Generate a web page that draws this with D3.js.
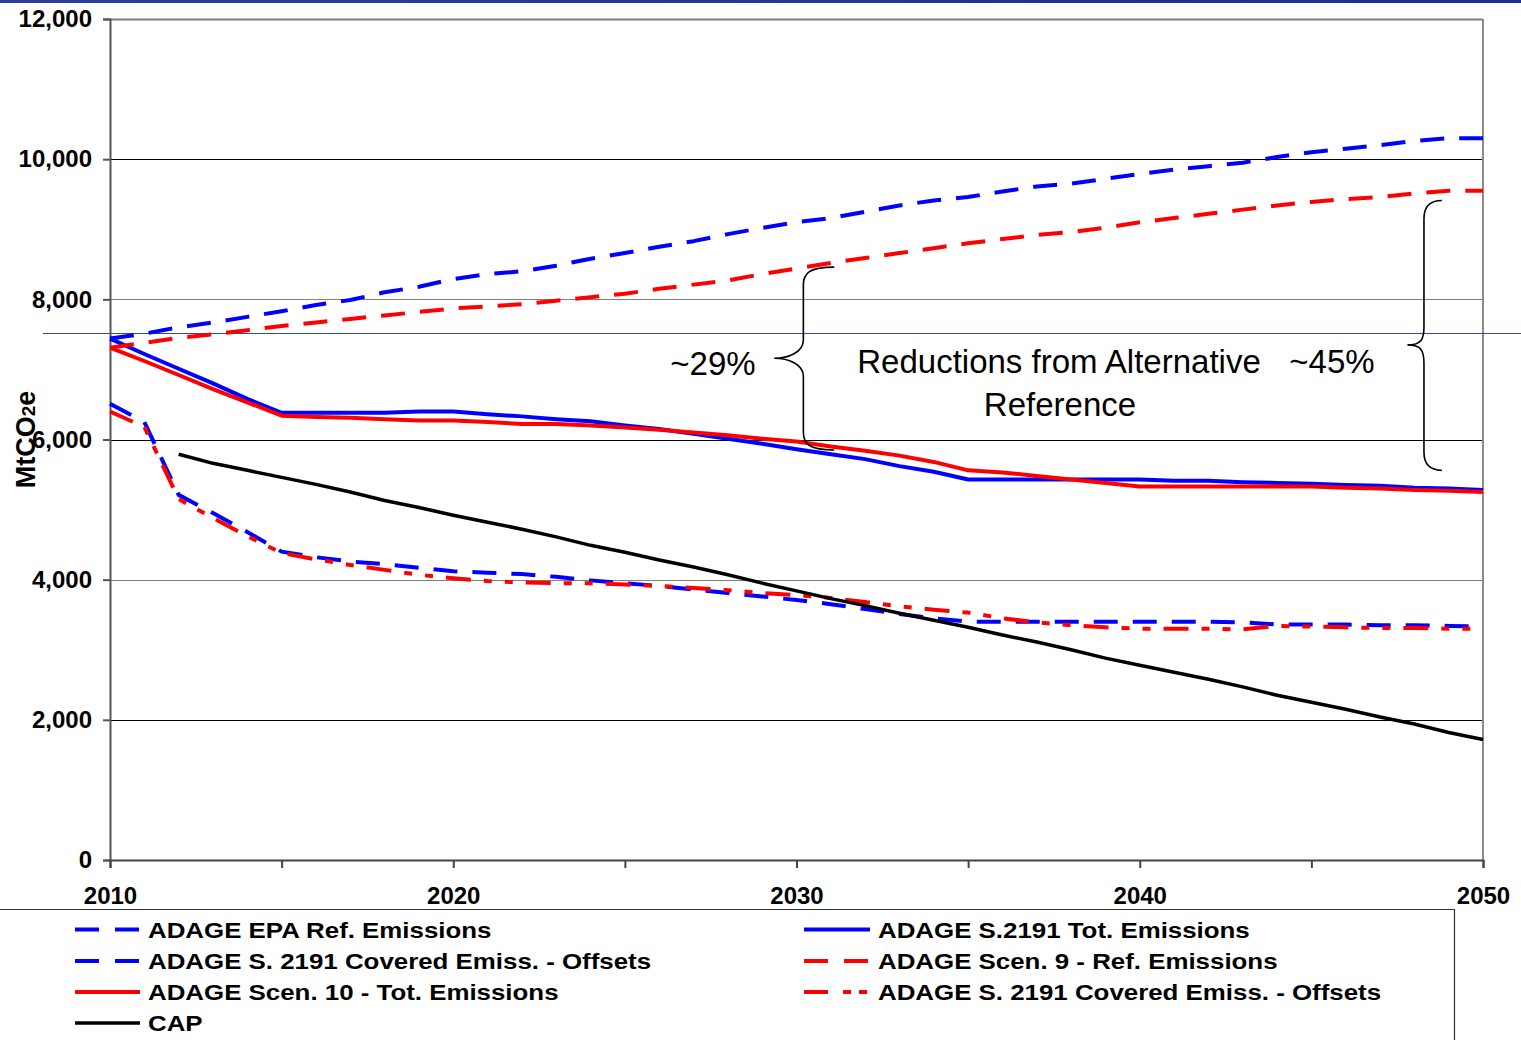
<!DOCTYPE html>
<html>
<head>
<meta charset="utf-8">
<script src="https://cdn.jsdelivr.net/npm/d3@7"></script>
<style>
  html, body { margin: 0; padding: 0; background: #fff; }
  svg { display: block; font-family: "Liberation Sans", Arial, sans-serif; }
</style>
</head>
<body>
<svg id="chart" width="1521" height="1040"></svg>
<script>
// ---------------- DATA ----------------
const years = d3.range(2010, 2051);
const capYears = d3.range(2012, 2051);

const epaRef = [7440,7510,7600,7670,7750,7830,7920,7990,8100,8180,8290,8360,8400,8480,8580,8660,8750,8830,8930,9020,9100,9160,9250,9340,9410,9460,9540,9610,9650,9720,9790,9850,9900,9950,10030,10100,10150,10200,10260,10300,10300];
const s2191Tot = [7440,7220,7010,6800,6580,6380,6380,6380,6380,6400,6400,6360,6330,6290,6260,6200,6150,6080,6010,5940,5860,5790,5720,5620,5540,5430,5430,5430,5430,5430,5430,5410,5410,5390,5380,5370,5350,5340,5310,5300,5280];
const s2191CovBlue = [6510,6250,5210,4950,4680,4400,4320,4260,4220,4170,4120,4100,4080,4040,3990,3950,3910,3860,3810,3760,3710,3650,3580,3510,3450,3400,3400,3400,3400,3400,3400,3400,3400,3390,3360,3360,3360,3350,3350,3340,3330];
const scen9Ref = [7310,7380,7450,7500,7560,7620,7670,7720,7770,7820,7870,7900,7930,7980,8030,8080,8150,8210,8270,8360,8440,8520,8590,8660,8730,8800,8860,8920,8960,9020,9100,9160,9220,9280,9340,9390,9430,9460,9510,9550,9550];
const scen10Tot = [7310,7120,6920,6720,6530,6340,6320,6310,6290,6270,6270,6250,6220,6220,6200,6170,6140,6100,6060,6010,5970,5900,5840,5770,5680,5560,5530,5480,5430,5380,5330,5330,5330,5330,5330,5330,5310,5300,5280,5270,5250];
const s2191CovRed = [6400,6180,5150,4880,4620,4380,4290,4210,4140,4070,4020,3980,3960,3950,3950,3930,3910,3880,3850,3810,3780,3740,3680,3620,3570,3530,3450,3390,3350,3320,3300,3300,3300,3290,3340,3330,3320,3310,3310,3300,3300];
const cap = [5790,5660,5560,5460,5360,5250,5130,5030,4920,4820,4720,4610,4490,4390,4280,4180,4070,3950,3840,3730,3630,3520,3420,3320,3210,3110,3000,2880,2780,2680,2580,2470,2350,2250,2150,2040,1940,1820,1720];

const yTicks = [0,2000,4000,6000,8000,10000,12000];
const xMinorTicks = [2010,2015,2020,2025,2030,2035,2040,2045,2050];
const xLabelTicks = [2010,2020,2030,2040,2050];

const seriesNames = [
  "ADAGE EPA Ref. Emissions",
  "ADAGE S.2191 Tot. Emissions",
  "ADAGE S. 2191 Covered Emiss. - Offsets",
  "ADAGE Scen. 9 - Ref. Emissions",
  "ADAGE Scen. 10 - Tot. Emissions",
  "ADAGE S. 2191 Covered Emiss. - Offsets",
  "CAP"
];

const annotationLeft = "~29%";
const annotationRight = "~45%";
const annotationMain = ["Reductions from Alternative", "Reference"];

// ---------------- STYLES ----------------
const DASH = "24,15";
const DASHDOT = "25,13,8,13,8,13";
const series = [
  {name: seriesNames[0], x: years, v: epaRef, color: "#0000ff", dash: DASH, w: 4, legend: [0,0], ldash: "24,16"},
  {name: seriesNames[1], x: years, v: s2191Tot, color: "#0000ff", dash: null, w: 4, legend: [1,0], ldash: null},
  {name: seriesNames[2], x: years, v: s2191CovBlue, color: "#0000ff", dash: DASH, w: 4, legend: [0,1], ldash: "24,16"},
  {name: seriesNames[3], x: years, v: scen9Ref, color: "#ff0000", dash: DASH, w: 4, legend: [1,1], ldash: "24,16"},
  {name: seriesNames[4], x: years, v: scen10Tot, color: "#ff0000", dash: null, w: 4, legend: [0,2], ldash: null},
  {name: seriesNames[5], x: years, v: s2191CovRed, color: "#ff0000", dash: DASHDOT, w: 4, legend: [1,2], ldash: "24,15,8,8,8,20"},
  {name: seriesNames[6], x: capYears, v: cap, color: "#000000", dash: null, w: 3.5, legend: [0,3], ldash: null}
];

// ---------------- CHART ----------------
const svg = d3.select("#chart");
svg.append("rect").attr("width",1521).attr("height",1040).attr("fill","#fff");

// top decorative band
const grad = svg.append("defs").append("linearGradient").attr("id","band");
grad.append("stop").attr("offset","0%").attr("stop-color","#2b3f9a");
grad.append("stop").attr("offset","100%").attr("stop-color","#1c2f8c");
svg.append("rect").attr("x",0).attr("y",0).attr("width",1521).attr("height",3).attr("fill","url(#band)");

const x = d3.scaleLinear().domain([2010, 2050]).range([110, 1483]);
const y = d3.scaleLinear().domain([0, 12000]).range([860, 19]);

// gridlines
const grid = svg.append("g");
yTicks.filter(t => t > 0).forEach(t => {
  const isBlack = (t / 2000) % 2 === 1;
  grid.append("line")
    .attr("x1", x(2010)).attr("x2", x(2050))
    .attr("y1", Math.round(y(t)) + 0.5).attr("y2", Math.round(y(t)) + 0.5)
    .attr("stroke", isBlack ? "#000" : "#808080")
    .attr("stroke-width", t === 12000 ? 2 : 1);
});
// right border
svg.append("line").attr("x1", x(2050)).attr("x2", x(2050)).attr("y1", y(12000)).attr("y2", y(0))
  .attr("stroke", "#8c8c8c").attr("stroke-width", 2);

// slide guide line (navy)
svg.append("line").attr("x1", 43).attr("x2", 1521).attr("y1", 333.5).attr("y2", 333.5)
  .attr("stroke", "#2d4f9a").attr("stroke-width", 1.2);

// Y axis
const yAxis = svg.append("g").attr("transform", `translate(${x(2010)},0)`)
  .call(d3.axisLeft(y).tickValues(yTicks).tickFormat(d3.format(",")).tickSize(7).tickPadding(11));
yAxis.select(".domain").attr("stroke", "#555").attr("stroke-width", 2);
yAxis.selectAll(".tick line").attr("stroke", "#555").attr("stroke-width", 2);
yAxis.selectAll(".tick text").attr("font-size", 24).attr("font-weight", "bold")
  .attr("font-family", "Liberation Sans, Arial, sans-serif").attr("fill", "#000");

// X axis
const xAxis = svg.append("g").attr("transform", `translate(0,${y(0)})`)
  .call(d3.axisBottom(x).tickValues(xMinorTicks)
    .tickFormat(d => xLabelTicks.includes(d) ? String(d) : "").tickSize(8).tickPadding(19));
xAxis.select(".domain").attr("stroke", "#444").attr("stroke-width", 2);
xAxis.selectAll(".tick line").attr("stroke", "#444").attr("stroke-width", 2);
xAxis.selectAll(".tick text").attr("font-size", 24).attr("font-weight", "bold")
  .attr("font-family", "Liberation Sans, Arial, sans-serif").attr("fill", "#000");

// Y title
const yt = svg.append("text")
  .attr("transform", `translate(35,${y(6000)}) rotate(-90)`)
  .attr("text-anchor", "middle").attr("font-size", 27).attr("font-weight", "bold").attr("fill", "#000");
yt.append("tspan").text("MtCO");
yt.append("tspan").attr("font-size", 19).text("2");
yt.append("tspan").text("e");

// series lines
const lines = svg.append("g");
series.forEach(s => {
  const pts = s.x.map((yr, i) => [yr, s.v[i]]);
  lines.append("path")
    .attr("d", d3.line().x(d => x(d[0])).y(d => y(d[1]))(pts))
    .attr("fill", "none")
    .attr("stroke", s.color)
    .attr("stroke-width", s.w)
    .attr("stroke-linejoin", "round")
    .attr("stroke-dasharray", s.dash);
});

// braces (annotations)
function brace(xTip, xSpine, xPoint, yTop, yMid, yBot) {
  const r = 18;
  return `M${xTip},${yTop} C${xSpine+6},${yTop} ${xSpine},${yTop+6} ${xSpine},${yTop+r}
          L${xSpine},${yMid-r} C${xSpine},${yMid-6} ${xPoint+14},${yMid} ${xPoint},${yMid}
          C${xPoint+14},${yMid} ${xSpine},${yMid+6} ${xSpine},${yMid+r}
          L${xSpine},${yBot-r} C${xSpine},${yBot-6} ${xSpine+6},${yBot} ${xTip},${yBot}`;
}
const ann = svg.append("g");
ann.append("path").attr("d", brace(x(2031.1), x(2030.2), x(2029.35), y(8460), y(7160), y(5850)))
  .attr("fill", "none").attr("stroke", "#000").attr("stroke-width", 1.6);
ann.append("path").attr("d", brace(x(2048.8), x(2048.28), x(2047.8), y(9410), y(7350), y(5560)))
  .attr("fill", "none").attr("stroke", "#000").attr("stroke-width", 1.6);

ann.append("text").attr("x", 713).attr("y", 375).attr("text-anchor", "middle")
  .attr("font-size", 33).attr("fill", "#000").text(annotationLeft);
ann.append("text").attr("x", 1332).attr("y", 373).attr("text-anchor", "middle")
  .attr("font-size", 33).attr("fill", "#000").text(annotationRight);
ann.append("text").attr("x", 1059).attr("y", 373).attr("text-anchor", "middle")
  .attr("font-size", 33).attr("fill", "#000").text(annotationMain[0]);
ann.append("text").attr("x", 1060).attr("y", 416).attr("text-anchor", "middle")
  .attr("font-size", 33).attr("fill", "#000").text(annotationMain[1]);

// legend
const lg = svg.append("g");
lg.append("path").attr("d", "M0,909.5 H1454.5 V1040").attr("fill", "none").attr("stroke", "#333").attr("stroke-width", 1.2);
const colX = [{sx: 75, ex: 140, tx: 148}, {sx: 804, ex: 870, tx: 878}];
const rowY = [929.5, 961, 992, 1023];
series.forEach(s => {
  const c = colX[s.legend[0]], ry = rowY[s.legend[1]];
  lg.append("line").attr("x1", c.sx).attr("x2", c.ex).attr("y1", ry).attr("y2", ry)
    .attr("stroke", s.color).attr("stroke-width", s.w).attr("stroke-dasharray", s.ldash);
  lg.append("text")
    .attr("transform", `translate(${c.tx},${ry + 8}) scale(1.15,1)`)
    .attr("font-size", 22.5).attr("font-weight", "bold").attr("fill", "#000").text(s.name);
});
</script>
</body>
</html>
